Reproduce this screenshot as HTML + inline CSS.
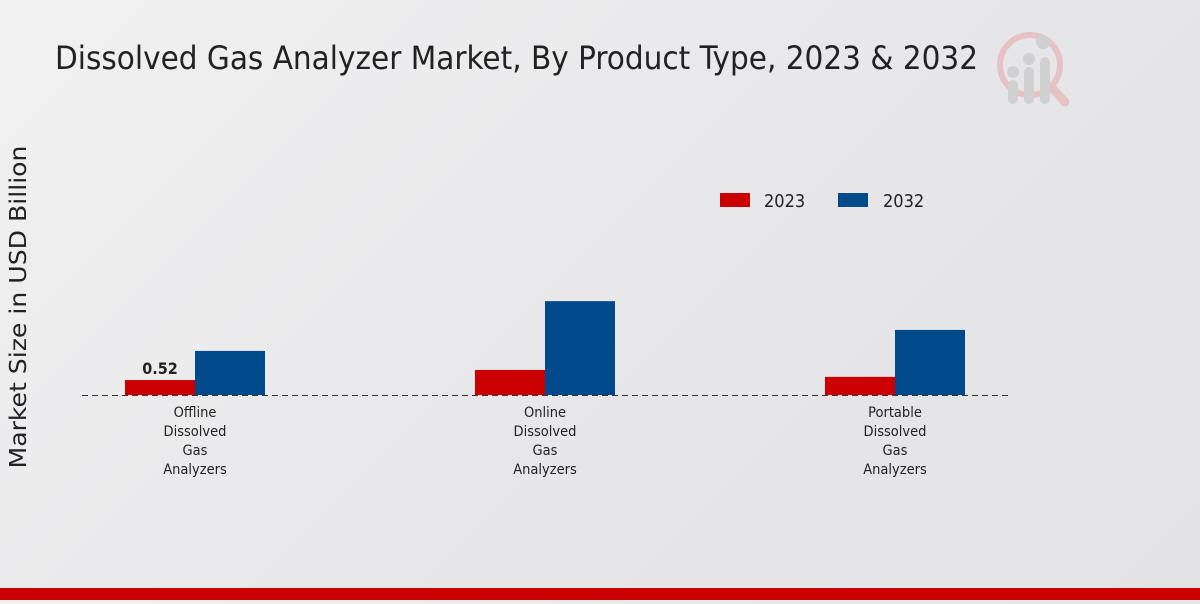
<!DOCTYPE html>
<html><head><meta charset="utf-8"><style>
html,body{margin:0;padding:0}
body{width:1200px;height:600px;overflow:hidden;background:linear-gradient(135deg,#f1f1f1 0%,#e6e6e9 60%,#e3e3e6 100%);font-family:"DejaVu Sans Condensed","DejaVu Sans","Liberation Sans",sans-serif}
svg text{font-family:"DejaVu Sans Condensed","DejaVu Sans","Liberation Sans",sans-serif}
</style></head><body>
<svg id="chart" width="1200" height="600" xmlns="http://www.w3.org/2000/svg">
<text x="55" y="69" font-size="32" fill="#222" textLength="923" lengthAdjust="spacingAndGlyphs">Dissolved Gas Analyzer Market, By Product Type, 2023 &amp; 2032</text>
<g opacity="0.5">
<circle cx="1030" cy="65" r="30" fill="none" stroke="#e7a0a0" stroke-width="6"/>
<line x1="1052" y1="88" x2="1065" y2="102" stroke="#e7a0a0" stroke-width="9" stroke-linecap="round"/>
<rect x="1008" y="80" width="10" height="24" rx="5" fill="#bbb"/>
<rect x="1024" y="67" width="10" height="37" rx="5" fill="#bbb"/>
<rect x="1040" y="57" width="10" height="47" rx="5" fill="#bbb"/>
<circle cx="1013" cy="72" r="6" fill="#bbb"/><circle cx="1029" cy="59" r="6" fill="#bbb"/><circle cx="1043" cy="42" r="7" fill="#bbb"/>
</g>
<text transform="translate(26,307) rotate(-90)" text-anchor="middle" font-size="23" fill="#222" textLength="323" lengthAdjust="spacingAndGlyphs">Market Size in USD Billion</text>
<g>
<rect x="720" y="193" width="30" height="14" fill="#cc0000"/>
<text x="764" y="207" font-size="18" fill="#222">2023</text>
<rect x="838" y="193" width="30" height="14" fill="#004a8c"/>
<text x="883" y="207" font-size="18" fill="#222">2032</text>
</g>
<g id="bars"></g>
<line x1="82" y1="395.5" x2="1008" y2="395.5" stroke="#333" stroke-dasharray="6,4" stroke-width="1"/>
<g id="labels"></g>
</svg>
<script>
const categories=[["Offline","Dissolved","Gas","Analyzers"],["Online","Dissolved","Gas","Analyzers"],["Portable","Dissolved","Gas","Analyzers"]];
const values2023=[0.52,0.87,0.63];
const values2032=[1.53,3.26,2.26];
const valueLabels2023=["0.52","",""];
const NS="http://www.w3.org/2000/svg";
const baseY=395, pxPerUnit=28.8;
function yScale(v){return baseY-v*pxPerUnit;}
function xCenter(i){return 195+i*350;}
const bars=document.getElementById('bars'), labels=document.getElementById('labels');
function mk(t,a){const e=document.createElementNS(NS,t);for(const k in a)e.setAttribute(k,a[k]);return e;}
categories.forEach((c,i)=>{
  const cx=xCenter(i);
  const r1=mk('rect',{x:cx-70,y:yScale(values2023[i]),width:70,height:baseY-yScale(values2023[i]),fill:'#cc0000'});
  
  
  bars.appendChild(r1);
  const r2=mk('rect',{x:cx,y:yScale(values2032[i]),width:70,height:baseY-yScale(values2032[i]),fill:'#004a8c'});
  
  
  bars.appendChild(r2);
  if(valueLabels2023[i]){
    const t=mk('text',{x:cx-35,y:yScale(values2023[i])-6,'text-anchor':'middle','font-size':'16','font-weight':'bold',fill:'#222'});
    t.textContent=valueLabels2023[i];
    
    
    labels.appendChild(t);
  }
  c.forEach((line,j)=>{
    const t=mk('text',{x:cx,y:417+j*19,'text-anchor':'middle','font-size':'14.5',fill:'#222'});
    t.textContent=line;
    
    
    labels.appendChild(t);
  });
});
</script>
<div style="position:absolute;left:0;top:588px;width:1200px;height:12px;background:#cc0000"></div>
</body></html>
